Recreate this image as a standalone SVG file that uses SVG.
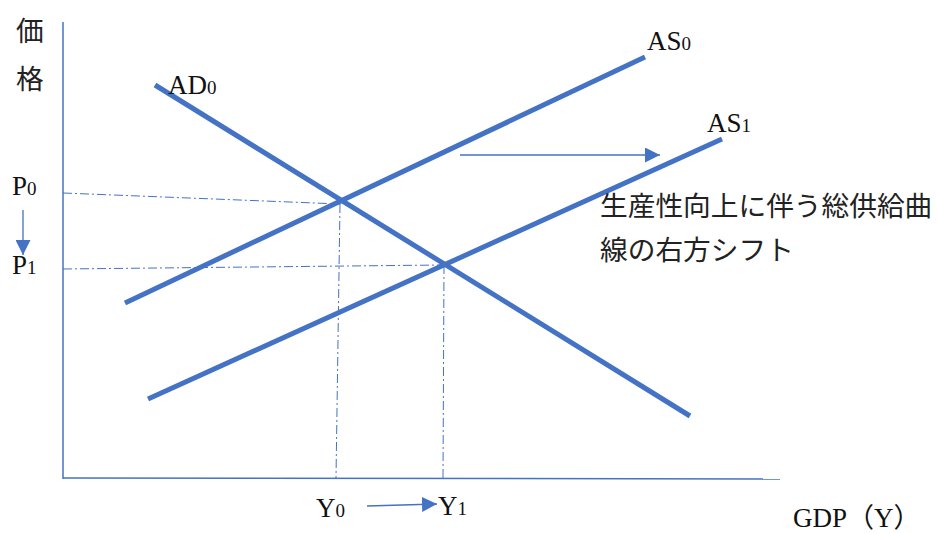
<svg xmlns="http://www.w3.org/2000/svg" width="938" height="534" viewBox="0 0 938 534">
<defs>
<style>
.t{font-family:"Liberation Serif","Noto Sans CJK JP",serif;font-size:27px;fill:#111}
.j{font-family:"Liberation Serif","Noto Sans CJK JP",serif;font-size:27.7px;fill:#222}
.s{font-size:19px}
.axis{stroke:#4472C4;stroke-width:1.5;fill:none}
.curve{stroke:#4472C4;stroke-width:5;fill:none}
.guide{stroke:#4472C4;stroke-width:1;fill:none;stroke-dasharray:9 3 2 3}
.arr{stroke:#4472C4;stroke-width:1.3;fill:none}
</style>
<marker id="ah" viewBox="0 0 10 10" refX="10" refY="5" markerWidth="15" markerHeight="15" markerUnits="userSpaceOnUse" orient="auto">
<path d="M0,0 L10,5 L0,10 z" fill="#4472C4"/>
</marker>
</defs>
<rect width="938" height="534" fill="#fff"/>
<g id="axes">
<line class="axis" x1="63" y1="22" x2="63" y2="479"/>
<line class="axis" x1="63" y1="478" x2="780" y2="479"/>
</g>
<g id="connectors">
<line class="guide" x1="63" y1="193" x2="340" y2="204"/>
<line class="guide" x1="340" y1="204" x2="336" y2="478"/>
<line class="guide" x1="63" y1="269" x2="443" y2="265"/>
<line class="guide" x1="444" y1="265" x2="443" y2="478"/>
<line class="arr" x1="23" y1="210" x2="23" y2="255" marker-end="url(#ah)"/>
<line class="arr" x1="367" y1="506" x2="437" y2="504" marker-end="url(#ah)"/>
<line class="arr" x1="460" y1="155" x2="660" y2="155" marker-end="url(#ah)"/>
</g>
<g id="AD0">
<line class="curve" x1="155" y1="85" x2="690" y2="416"/>
<text class="t" x="168" y="94">AD<tspan class="s">0</tspan></text>
</g>
<g id="AS0">
<line class="curve" x1="125" y1="303" x2="645" y2="57"/>
<text class="t" x="647" y="50">AS<tspan class="s">0</tspan></text>
</g>
<g id="AS1">
<line class="curve" x1="148" y1="399" x2="722" y2="139"/>
<text class="t" x="707" y="132">AS<tspan class="s">1</tspan></text>
</g>
<g id="labels">
<text class="j" x="16" y="41">価</text>
<text class="j" x="16" y="89">格</text>
<text class="t" x="12" y="195">P<tspan class="s">0</tspan></text>
<text class="t" x="12" y="274">P<tspan class="s">1</tspan></text>
<text class="t" x="316" y="517">Y<tspan class="s">0</tspan></text>
<text class="t" x="438" y="515">Y<tspan class="s">1</tspan></text>
<text class="t" x="793" y="527">GDP（Y）</text>
<text class="j" x="600" y="216">生産性向上に伴う総供給曲</text>
<text class="j" x="600" y="260">線の右方シフト</text>
</g>
</svg>
